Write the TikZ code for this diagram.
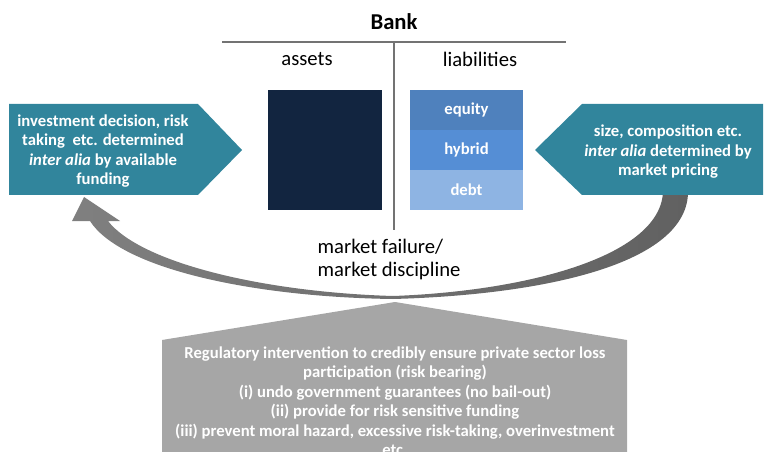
\documentclass[tikz,border=0pt]{standalone}
\usepackage{fontspec}
\setmainfont{Carlito}
\definecolor{fundteal}{RGB}{49,133,156}
\definecolor{assetnavy}{RGB}{18,37,64}
\definecolor{equitycol}{RGB}{79,129,189}
\definecolor{hybridcol}{RGB}{85,142,213}
\definecolor{debtcol}{RGB}{142,180,227}
\definecolor{reggray}{RGB}{166,166,166}

\begin{document}
\begin{tikzpicture}[x=0.75pt,y=-0.75pt,
    rule/.style={draw=black!55,line width=1.1pt},
    heading/.style={font=\fontsize{15.5}{17.3}\selectfont},
    boxtext/.style={text=white,align=center,
      font=\fontsize{12.5}{14.6}\selectfont\bfseries}]
  \useasboundingbox (0,0) rectangle (766,452);

  % balance sheet
  \node[font=\fontsize{17}{20}\selectfont\bfseries] (bank) at (394,22) {Bank};
  \draw[rule] (222,42) -- (566,42);
  \draw[rule] (394,42) -- (394,230);
  \node[heading] (assets) at (307,59) {assets};
  \node[heading] (liab) at (480,59) {liabilities};
  \fill[assetnavy] (268,90) rectangle (382,210);
  \foreach \name/\col/\top in {equity/equitycol/90,hybrid/hybridcol/130,debt/debtcol/170} {
    \fill[\col] (410,\top) rectangle (523,\top+40);
    \node[boxtext] (\name) at (466.5,\top+20) {\name};
  }

  % feedback arrow
  \shade[left color=black!50,middle color=black!38,right color=black!62]
    (688,190) .. controls (690,265) and (540,295) .. (393,299)
    .. controls (250,297) and (120,268) .. (90,221)
    -- (72,221) -- (84,197) -- (120,221) -- (108,221)
    .. controls (140,262) and (260,292) .. (393,296)
    .. controls (530,291) and (663,255) .. (663,190) -- cycle;
  \node[heading,anchor=west,align=left] (mkt) at (313,259.5)
    {market failure/\\market discipline};

  % funding and pricing
  \fill[fundteal] (9,104) -- (198,104) -- (242,150) -- (198,195) -- (9,195) -- cycle;
  \node[boxtext] (funding) at (103,151)
    {investment decision, risk\\taking~ etc. determined\\\textit{inter alia} by available\\funding};
  \fill[fundteal] (535,150) -- (582,104) -- (763,104) -- (763,195) -- (582,195) -- cycle;
  \node[boxtext] (pricing) at (668,152)
    {size, composition etc.\\\textit{inter alia} determined by\\market pricing};

  % regulation
  \fill[reggray] (395,302) -- (627,340) -- (627,470) -- (162,470) -- (162,340) -- cycle;
  \node[boxtext] (reg) at (395,401)
    {Regulatory intervention to credibly ensure private sector loss\\
     participation (risk bearing)\\
     (i) undo government guarantees (no bail-out)\\
     (ii) provide for risk sensitive funding\\
     (iii) prevent moral hazard, excessive risk-taking, overinvestment\\
     etc.};
\end{tikzpicture}
\end{document}
